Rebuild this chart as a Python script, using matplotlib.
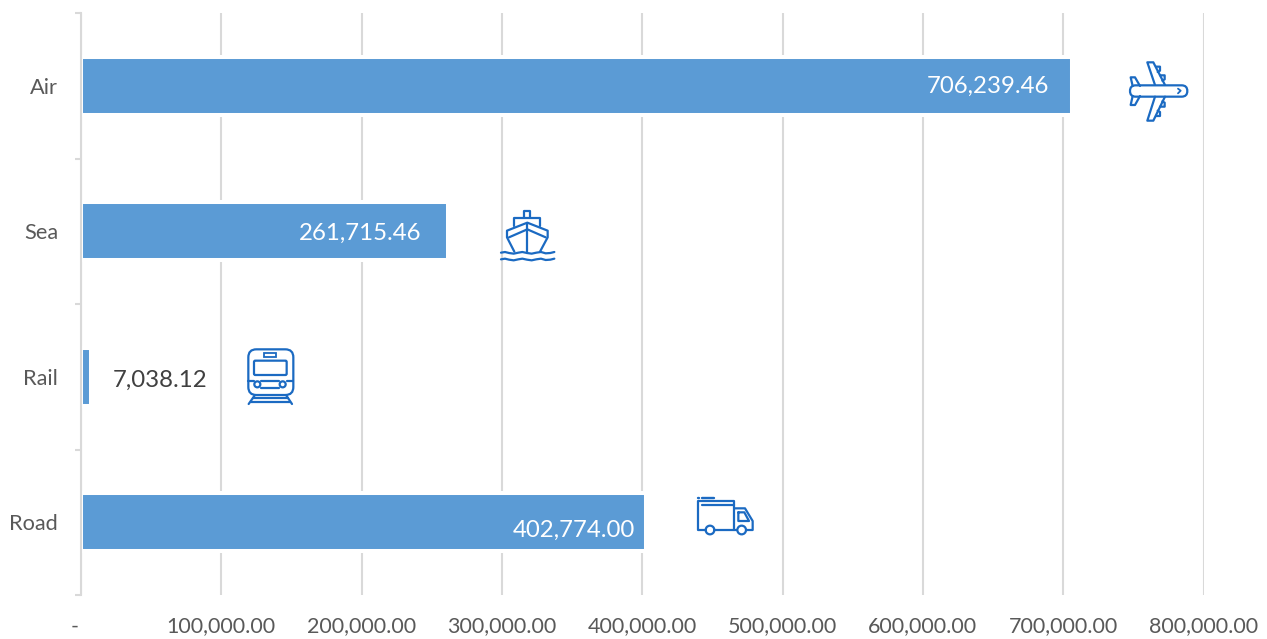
import matplotlib
matplotlib.use("Agg")
import matplotlib.pyplot as plt
from matplotlib.patches import Circle, Rectangle, FancyBboxPatch
from matplotlib.transforms import ScaledTranslation

plt.rcParams['font.family'] = ['Lato', 'DejaVu Sans']

modes = ["Air", "Sea", "Rail", "Road"]
cost = [706239.46, 261715.46, 7038.12, 402774.00]
x_ticks = [0, 100000, 200000, 300000, 400000, 500000, 600000, 700000, 800000]
x_labels = ["-", "100,000.00", "200,000.00", "300,000.00", "400,000.00",
            "500,000.00", "600,000.00", "700,000.00", "800,000.00"]

W, H = 1267, 639
BAR = "#5B9BD5"
GRID = "#D9D9D9"
ICON = "#1B6AC2"
TICK_TEXT = "#595959"

fig = plt.figure(figsize=(W / 100, H / 100), dpi=100)
ax = fig.add_axes([81 / W, 1 - 595 / H, (1203.5 - 81) / W, (595 - 13) / H])

ypos = range(len(modes))
# white outline keeps the gridlines clear of each bar
ax.barh(ypos, cost, height=0.4, color=BAR, edgecolor="white", linewidth=2.9, zorder=2)

ax.set_xlim(0, 800000)
ax.set_ylim(3.5, -0.5)
ax.set_xticks(x_ticks)
ax.set_xticklabels(x_labels)
ax.set_yticks(list(ypos))
ax.set_yticklabels(modes)
ax.set_yticks([-0.5, 0.5, 1.5, 2.5, 3.5], minor=True)
ax.grid(axis="x", color=GRID, linewidth=1.5, zorder=0)
ax.set_axisbelow(True)

for side in ["top", "right", "bottom"]:
    ax.spines[side].set_visible(False)
ax.spines["left"].set_color(GRID)
ax.spines["left"].set_linewidth(1.5)
ax.spines["left"].set_zorder(3)
ax.tick_params(axis="x", length=0, pad=15.5, labelsize=15.5, labelcolor=TICK_TEXT)
ax.tick_params(axis="y", which="major", length=0, pad=16.5, labelsize=15.7, labelcolor=TICK_TEXT)
ax.tick_params(axis="y", which="minor", length=4.3, width=1.5, color=GRID)

# the zero label sits just left of the axis
zero_label = ax.get_xticklabels()[0]
zero_label.set_horizontalalignment("right")
zero_label.set_transform(zero_label.get_transform() + ScaledTranslation(-2 / 100, 0, fig.dpi_scale_trans))

# value labels: offsets are in points from the bar end and centre
label_spots = [(-16.5, -0.5, "right", "white"), (-19, -1.5, "right", "white"),
               (16, -2.5, "left", "#404040"), (-8, -5.5, "right", "white")]
for i, (value, spot) in enumerate(zip(cost, label_spots)):
    ax.annotate(f"{value:,.2f}", (value, i), xytext=spot[:2], textcoords="offset points",
                ha=spot[2], va="center", color=spot[3], fontsize=17.3, zorder=4)

# transport icons live on a pixel-sized overlay
ov = fig.add_axes([0, 0, 1, 1], facecolor="none")
ov.set_xlim(0, W)
ov.set_ylim(H, 0)
ov.axis("off")


def stroke(ox, oy, pts, closed=False, lw=1.6):
    px = [ox + p[0] / 3 for p in pts]
    py = [oy + p[1] / 3 for p in pts]
    if closed:
        px.append(px[0])
        py.append(py[0])
    ov.plot(px, py, color=ICON, lw=lw, solid_joinstyle="round", solid_capstyle="round")


def ring(ox, oy, cx, cy, r):
    ov.add_patch(Circle((ox + cx / 3, oy + cy / 3), r / 3, fill=False, edgecolor=ICON, lw=1.6))


def rounded(ox, oy, x0, y0, x1, y1, r):
    box = FancyBboxPatch((ox + (x0 + r) / 3, oy + (y0 + r) / 3), (x1 - x0 - 2 * r) / 3, (y1 - y0 - 2 * r) / 3,
                         boxstyle=f"round,pad={r / 3},rounding_size={r / 3}",
                         fill=False, edgecolor=ICON, lw=1.6)
    ov.add_patch(box)


def plane(ox, oy):
    rounded(ox, oy, 60, 106, 232, 140, 17)
    stroke(ox, oy, [(135, 105), (112, 37), (130, 37), (165, 105)])
    stroke(ox, oy, [(135, 140), (112, 212), (130, 212), (165, 140)])
    stroke(ox, oy, [(68, 108), (62, 82), (75, 82), (90, 108)])
    stroke(ox, oy, [(68, 138), (62, 165), (75, 165), (90, 138)])
    stroke(ox, oy, [(138, 50), (150, 50), (150, 62), (143, 66)])
    stroke(ox, oy, [(150, 76), (164, 76), (164, 88), (157, 92)])
    stroke(ox, oy, [(150, 170), (164, 170), (164, 158), (157, 154)])
    stroke(ox, oy, [(138, 198), (150, 198), (150, 186), (143, 182)])
    stroke(ox, oy, [(204, 116), (212, 122), (204, 130)], lw=1.3)


def ship(ox, oy):
    stroke(ox, oy, [(118, 50), (118, 32), (136, 32), (136, 50)])
    stroke(ox, oy, [(88, 78), (88, 55), (165, 55), (165, 78)])
    stroke(ox, oy, [(88, 155), (66, 112), (66, 92), (127, 68), (188, 92), (188, 112), (165, 155)])
    stroke(ox, oy, [(72, 112), (127, 88), (182, 112)])
    stroke(ox, oy, [(127, 68), (127, 158)])
    for wy in (158, 178):
        wave = [(48, wy), (60, wy - 2), (72, wy + 1), (86, wy + 3), (100, wy), (112, wy - 2),
                (126, wy + 1), (140, wy + 3), (154, wy), (168, wy - 2), (182, wy + 2), (196, wy + 1), (208, wy - 2)]
        stroke(ox, oy, wave)


def train(ox, oy):
    rounded(ox, oy, 55, 28, 190, 165, 24)
    ov.add_patch(Rectangle((ox + 102 / 3, oy + 38 / 3), 36 / 3, 12 / 3, fill=False, edgecolor=ICON, lw=1.3))
    rounded(ox, oy, 72, 62, 170, 105, 4)
    ring(ox, oy, 82, 133, 9)
    ring(ox, oy, 158, 133, 9)
    stroke(ox, oy, [(55, 122), (72, 122)])
    stroke(ox, oy, [(170, 122), (190, 122)])
    stroke(ox, oy, [(92, 124), (148, 124)])
    stroke(ox, oy, [(92, 143), (148, 143)])
    stroke(ox, oy, [(75, 165), (56, 192)])
    stroke(ox, oy, [(168, 165), (186, 192)])
    stroke(ox, oy, [(70, 173), (174, 173)])
    stroke(ox, oy, [(62, 186), (180, 186)])


def truck(ox, oy):
    stroke(ox, oy, [(52, 38), (88, 38)], lw=1.7)
    stroke(ox, oy, [(40, 38), (43, 38)], lw=1.7)
    stroke(ox, oy, [(62, 135), (40, 135), (40, 48), (148, 48), (148, 135)])
    stroke(ox, oy, [(50, 60), (148, 60)])
    stroke(ox, oy, [(88, 135), (157, 135)])
    stroke(ox, oy, [(183, 135), (203, 135), (203, 108), (180, 70), (148, 70)])
    stroke(ox, oy, [(160, 82), (178, 82), (192, 108), (160, 108)], closed=True)
    ring(ox, oy, 75, 135, 13)
    ring(ox, oy, 170, 135, 13)


plane(1110, 50)
ship(485, 200)
train(230, 340)
truck(685, 485)

fig.savefig("out.png", dpi=100)
